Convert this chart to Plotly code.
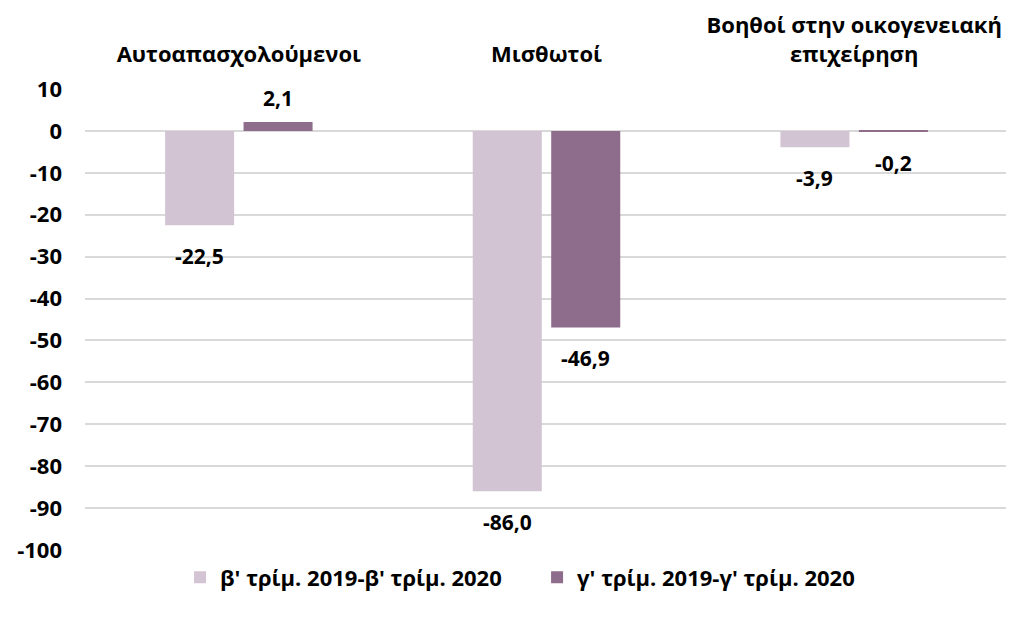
import plotly.graph_objects as go

categories = ["Αυτοαπασχολούμενοι", "Μισθωτοί", "Βοηθοί στην οικογενειακή<br>επιχείρηση"]
series_names = ["β' τρίμ. 2019-β' τρίμ. 2020", "γ' τρίμ. 2019-γ' τρίμ. 2020"]
q2_change = [-22.5, -86.0, -3.9]
q3_change = [2.1, -46.9, -0.2]
y_ticks = [10, 0, -10, -20, -30, -40, -50, -60, -70, -80, -90, -100]
colors = ["#D3C4D4", "#8E6D8C"]

FONT = "'Open Sans', Lato, 'DejaVu Sans', sans-serif"
BARGAP = 0.49
BARGROUPGAP = 0.12

fig = go.Figure()
all_series = [q2_change, q3_change]
for name, vals, col in zip(series_names, all_series, colors):
    fig.add_trace(go.Bar(x=categories, y=vals, name=name, marker_color=col,
                         marker_line_width=0))

annotations = []
slot = (1 - BARGAP) / 2
for i, vals in enumerate(all_series):
    off = (-0.5 + i) * slot
    for j, v in enumerate(vals):
        txt = f"{v:.1f}".replace(".", ",")
        annotations.append(dict(
            x=j + off, y=v, xref="x", yref="y", text=txt, showarrow=False,
            yanchor="middle", yshift=(-31 if v < 0 else 24),
            font=dict(family=FONT, size=21, color="#000000", weight="bold"),
        ))

# page body has an 8px margin, so the figure is drawn 8px in from the window edge
fig.update_layout(
    width=1006, height=609,
    margin=dict(l=77, r=6, t=81, b=67, autoexpand=False),
    paper_bgcolor="white", plot_bgcolor="white",
    barmode="group", bargap=BARGAP, bargroupgap=BARGROUPGAP,
    font=dict(family=FONT, size=21, color="#000000"),
    showlegend=True,
    legend=dict(orientation="h", x=0.103, xanchor="left", y=-0.014, yanchor="top",
                entrywidth=312, entrywidthmode="pixels",
                font=dict(family=FONT, size=22, color="#000000", weight="bold"),
                traceorder="normal"),
    annotations=annotations,
)
fig.update_xaxes(side="top", showgrid=False, showline=False, ticks="", automargin=False,
                 tickfont=dict(family=FONT, size=22, color="#000000", weight="bold"),
                 ticklabelstandoff=22, range=[-0.5, 2.5])
fig.update_yaxes(range=[-100, 10], tickvals=y_ticks, ticktext=[str(t) for t in y_ticks],
                 showgrid=True, gridcolor="#D9D9D9", automargin=False,
                 gridwidth=1.5, zeroline=True, zerolinecolor="#D9D9D9", zerolinewidth=1.5,
                 showline=False, ticks="",
                 tickfont=dict(family=FONT, size=22, color="#000000", weight="bold"),
                 ticklabelstandoff=22)

fig.write_html("out.html")
